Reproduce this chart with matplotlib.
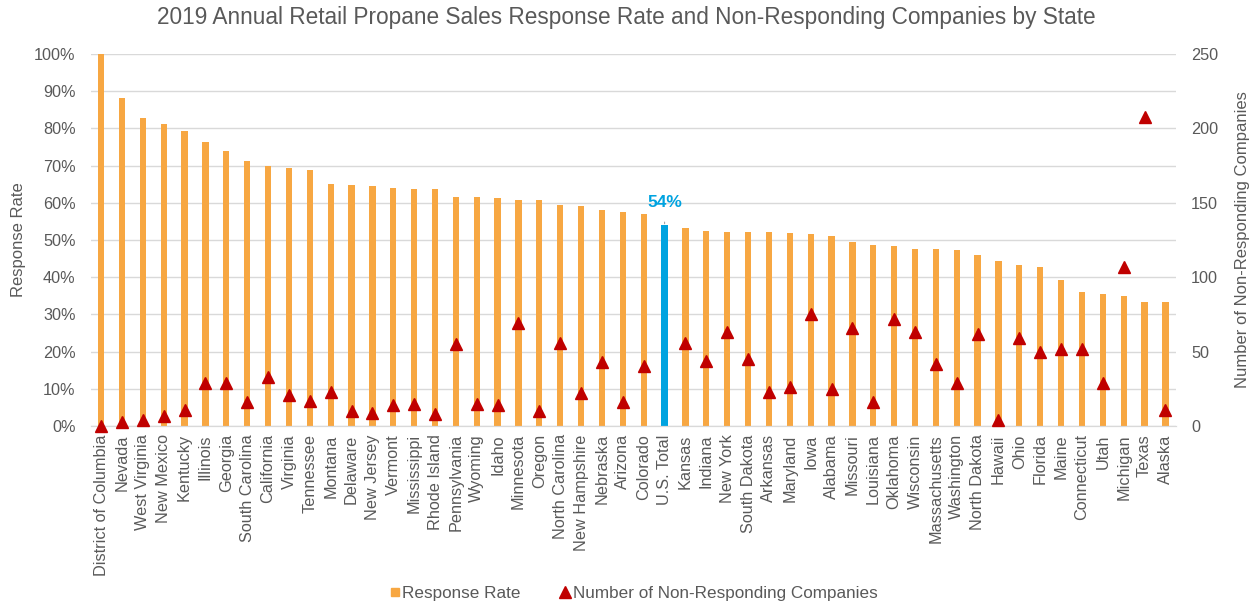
import numpy as np
import matplotlib.pyplot as plt
from matplotlib.lines import Line2D

plt.rcParams['font.family'] = ['Liberation Sans', 'DejaVu Sans']

# Données
etats = ['District of Columbia', 'Nevada', 'West Virginia', 'New Mexico', 'Kentucky',
         'Illinois', 'Georgia', 'South Carolina', 'California', 'Virginia',
         'Tennessee', 'Montana', 'Delaware', 'New Jersey', 'Vermont',
         'Mississippi', 'Rhode Island', 'Pennsylvania', 'Wyoming', 'Idaho',
         'Minnesota', 'Oregon', 'North Carolina', 'New Hampshire', 'Nebraska',
         'Arizona', 'Colorado', 'U.S. Total', 'Kansas', 'Indiana',
         'New York', 'South Dakota', 'Arkansas', 'Maryland', 'Iowa',
         'Alabama', 'Missouri', 'Louisiana', 'Oklahoma', 'Wisconsin',
         'Massachusetts', 'Washington', 'North Dakota', 'Hawaii', 'Ohio',
         'Florida', 'Maine', 'Connecticut', 'Utah', 'Michigan',
         'Texas', 'Alaska']

taux_reponse = [100.0, 88.1, 82.9, 81.1, 79.4,
                76.3, 73.8, 71.3, 70.0, 69.4,
                68.9, 65.0, 64.7, 64.4, 64.1,
                63.7, 63.6, 61.6, 61.6, 61.2,
                60.8, 60.8, 59.4, 59.1, 58.1,
                57.4, 57.0, 54.0, 53.1, 52.5,
                52.1, 52.1, 52.1, 51.8, 51.5,
                51.1, 49.4, 48.7, 48.3, 47.6,
                47.6, 47.2, 45.9, 44.4, 43.4,
                42.7, 39.2, 36.1, 35.4, 35.0,
                33.2, 33.2]

non_repondants = [0, 3, 4, 7, 11,
                  29, 29, 16, 33, 21,
                  17, 23, 10, 9, 14,
                  15, 8, 55, 15, 14,
                  69, 10, 56, 22, 43,
                  16, 40, np.nan, 56, 44,
                  63, 45, 23, 26, 75,
                  25, 66, 16, 72, 63,
                  42, 29, 62, 4, 59,
                  50, 52, 52, 29, 107,
                  208, 11]

orange = '#F7A742'
bleu = '#00A3E0'
rouge = '#C00000'
gris = '#595959'

x = np.arange(len(etats))
couleurs = [bleu if e == 'U.S. Total' else orange for e in etats]

fig = plt.figure(figsize=(12.53, 6.09), dpi=100)
ax = fig.add_axes([0.0724, 0.3005, 0.866, 0.6108])
ax2 = ax.twinx()

ax.bar(x, taux_reponse, width=0.3, color=couleurs, zorder=2)
ax2.plot(x, non_repondants, linestyle='none', marker='^', markersize=9,
         color=rouge, zorder=3, clip_on=False)

# étiquette du total
i_us = etats.index('U.S. Total')
ax.annotate('54%', xy=(i_us, taux_reponse[i_us]), xytext=(i_us, taux_reponse[i_us] + 6.2),
            ha='center', va='center', color=bleu, fontsize=12.5, fontweight='bold',
            arrowprops=dict(arrowstyle='-', color='#A6A6A6', lw=0.8, shrinkA=7, shrinkB=1))

ax.set_xlim(-0.5, len(etats) - 0.5)
ax.set_ylim(0, 100)
ax2.set_ylim(0, 250)
ax.set_yticks(np.arange(0, 101, 10))
ax.set_yticklabels([f'{v}%' for v in range(0, 101, 10)])
ax2.set_yticks(np.arange(0, 251, 50))
ax.set_xticks(x)
ax.set_xticklabels(etats, rotation=90)

ax.grid(axis='y', color='#D9D9D9', lw=1, zorder=0)
ax.set_axisbelow(True)
for a in (ax, ax2):
    for s in ('top', 'left', 'right'):
        a.spines[s].set_visible(False)
    a.spines['bottom'].set_color('#D9D9D9')
    a.tick_params(length=0, labelsize=11.7, colors=gris)
ax.tick_params(axis='x', pad=6)
ax.tick_params(axis='y', pad=11)
ax2.tick_params(axis='y', pad=11)

ax.set_ylabel('Response Rate', fontsize=12, color=gris, labelpad=6)
ax2.set_ylabel('Number of Non-Responding Companies', fontsize=12, color=gris, labelpad=12)

fig.suptitle('2019 Annual Retail Propane Sales Response Rate and Non-Responding Companies by State',
             fontsize=16.3, color=gris, y=0.99)

poignees = [Line2D([], [], linestyle='none', marker='s', markersize=6, color=orange),
            Line2D([], [], linestyle='none', marker='^', markersize=8, color=rouge)]
fig.legend(poignees, ['Response Rate', 'Number of Non-Responding Companies'],
           loc='lower center', bbox_to_anchor=(0.505, -0.012), ncol=2, frameon=False,
           fontsize=12.3, labelcolor=gris, handlelength=0.8, handletextpad=0.05,
           columnspacing=2.2)

fig.savefig('out.png', dpi=100)
